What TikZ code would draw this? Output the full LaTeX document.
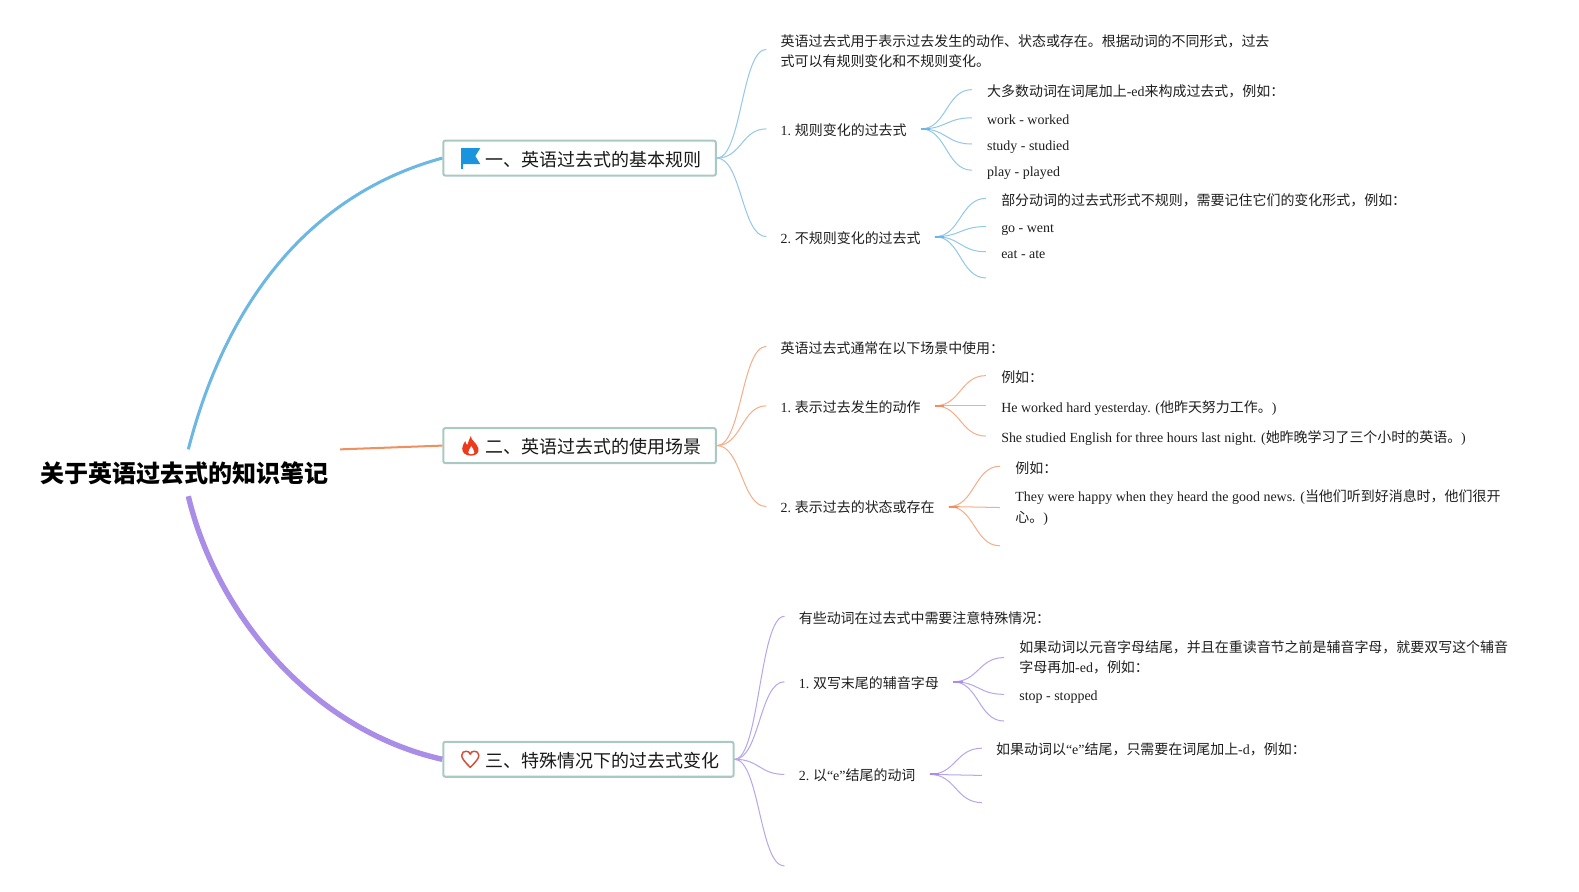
\documentclass[tikz,border=0pt]{standalone}
\usetikzlibrary{calc}
\usepackage{fontspec}
\setmainfont{Liberation Serif}
\newfontfamily\cjk{Noto Sans CJK SC}
\newcommand{\zh}[1]{{\cjk #1}}
\definecolor{cblue}{HTML}{6DB7E3}
\definecolor{cblueL}{HTML}{93C8E8}
\definecolor{corange}{HTML}{F0905F}
\definecolor{corangeL}{HTML}{F4AE8A}
\definecolor{cpurple}{HTML}{A98DE6}
\definecolor{cpurpleL}{HTML}{B8A6EA}
\definecolor{boxline}{HTML}{A9CAC3}
\definecolor{iflag}{HTML}{1A94DC}
\definecolor{iflame}{HTML}{EE3A1C}
\definecolor{iheart}{HTML}{D0503C}
\tikzset{
  txt/.style={anchor=west,inner xsep=10.5pt,inner ysep=0pt,text height=11.25pt,text depth=1.8pt,font=\fontsize{10.4pt}{15pt}\selectfont,text=black!88},
  cj/.style={text height=12.6pt},
  lf/.style={inner xsep=11.25pt},
  mtxt/.style={anchor=west,inner xsep=10.5pt,inner ysep=0pt,align=left,font=\fontsize{10.4pt}{15pt}\selectfont,text=black!88},
  topic/.style={anchor=west,draw=boxline,line width=1.5pt,rounded corners=1.5pt,fill=white,minimum height=26pt,inner sep=0pt,text height=15pt,text depth=2.6pt,font=\fontsize{13.4pt}{16pt}\selectfont,text=black!90},
  rootn/.style={inner xsep=8.5pt,inner ysep=0pt,minimum height=34.5pt,font=\fontsize{17.9pt}{20pt}\selectfont\bfseries},
  lk/.style={line width=0.75pt,to path={.. controls ($(\tikztostart)!0.5!(\tikztostart -| \tikztotarget)$) and ($(\tikztotarget)!0.5!(\tikztotarget -| \tikztostart)$) .. (\tikztotarget)}},
  stub/.style={line width=1.5pt},
}
\begin{document}
\begin{tikzpicture}[x=0.75pt,y=-0.75pt]
\useasboundingbox[fill=white] (0,0) rectangle (1568,884.8);

% root
\node[rootn] (root) at (183,469.5) {\zh{关于英语过去式的知识笔记}};

% topics
\node[topic,minimum width=203pt] (t1) at (439.2,157) {\hspace*{21.3pt}\zh{一、英语过去式的基本规则}};
\node[topic,minimum width=203pt] (t2) at (439.2,442.5) {\hspace*{21.3pt}\zh{二、英语过去式的使用场景}};
\node[topic,minimum width=216.2pt] (t3) at (439.2,754) {\hspace*{21.3pt}\zh{三、特殊情况下的过去式变化}};

\draw[cblue,line width=2.25pt] ([xshift=3pt]root.north) .. controls (222,310) and (300,195) .. (t1.west);
\draw[corange,line width=1.5pt] (root.north east) -- (t2.west);
\draw[cpurple,line width=4pt] ([xshift=3pt]root.south) .. controls (215,610) and (310,725) .. (t3.west);

% icons
\fill[iflag] (458,147) -- (477,147) -- (472,155) -- (477,163) -- (460,163) -- (460,168) -- (458,168) -- cycle;
\fill[iflame] (467.5,433) .. controls (468,438) and (473,439) .. (475,445) .. controls (476.5,450) and (472,452.5) .. (468,452.5) .. controls (463,452.5) and (458.5,450) .. (459,445) .. controls (459.3,442) and (461,440) .. (462,438) .. controls (462.5,440) and (463,441) .. (464,442) .. controls (465,439) and (466,436) .. (467.5,433) -- cycle;
\fill[white] (468,443) .. controls (467,446) and (464.5,447) .. (465,449.5) .. controls (465.5,451.5) and (470.5,451.5) .. (471,449.5) .. controls (471.5,447) and (469,446) .. (468,443) -- cycle;
\draw[iheart,line width=1.1pt,line join=round] (467,762) .. controls (461,756) and (458.5,753) .. (458.5,750) .. controls (458.5,747) and (461,746) .. (463,746) .. controls (465,746) and (466.5,747) .. (467,749) .. controls (467.5,747) and (469,746) .. (471,746) .. controls (473,746) and (475.5,747) .. (475.5,750) .. controls (475.5,753) and (473,756) .. (467,762) -- cycle;

% group 1
\node[mtxt] (a1) at (761,51) {\zh{英语过去式用于表示过去发生的动作、状态或存在。根据动词的不同形式，过去}\\\zh{式可以有规则变化和不规则变化。}};
\coordinate (a1e) at (761,49);
\node[txt] (a2) at (761,128) {1.\hspace{2.8pt}\zh{规则变化的过去式}};
\node[txt,cj] (a3) at (761,235) {2.\hspace{2.8pt}\zh{不规则变化的过去式}};
\node[txt,lf,cj] (a21) at (965,89) {\zh{大多数动词在词尾加上}-ed\zh{来构成过去式，例如：}};
\node[txt,lf] (a22) at (965,117) {work - worked};
\node[txt,lf] (a23) at (965,143) {study - studied};
\node[txt,lf] (a24) at (965,169) {play - played};
\node[txt,lf,cj] (a31) at (979,197) {\zh{部分动词的过去式形式不规则，需要记住它们的变化形式，例如：}};
\node[txt,lf] (a32) at (979,225) {go - went};
\node[txt,lf] (a33) at (979,250) {eat - ate};
\coordinate (a34) at (979,276);
\begin{scope}[cblueL]
\draw (t1.east) edge[lk] (a1e) edge[lk] (a2.west) edge[lk] (a3.west);
\draw (a2.east) edge[lk] (a21.west) edge[lk] (a22.west) edge[lk] (a23.west) edge[lk] (a24.west);
\draw (a3.east) edge[lk] (a31.west) edge[lk] (a32.west) edge[lk] (a33.west) edge[lk] (a34);
\draw[stub,cblue] (a2.east) -- ++(7pt,0);
\draw[stub,cblue] (a3.east) -- ++(7pt,0);
\end{scope}

% group 2
\node[txt,cj] (b1) at (761,344) {\zh{英语过去式通常在以下场景中使用：}};
\node[txt] (b2) at (761,403) {1.\hspace{2.8pt}\zh{表示过去发生的动作}};
\node[txt] (b3) at (761,503) {2.\hspace{2.8pt}\zh{表示过去的状态或存在}};
\node[txt,lf,cj] (b21) at (979,373) {\zh{例如：}};
\node[txt,lf] (b22) at (979,403) {He worked hard yesterday. (\zh{他昨天努力工作。})};
\node[txt,lf] (b23) at (979,433) {She studied English for three hours last night. (\zh{她昨晚学习了三个小时的英语。})};
\node[txt,lf,cj] (b31) at (993,463) {\zh{例如：}};
\node[mtxt,lf] (b32) at (993,504) {They were happy when they heard the good news. (\zh{当他们听到好消息时，他们很开}\\\zh{心。})};
\coordinate (b33) at (993,542);
\begin{scope}[corangeL]
\draw (t2.east) edge[lk] (b1.west) edge[lk] (b2.west) edge[lk] (b3.west);
\draw (b2.east) edge[lk] (b21.west) edge[lk] (b22.west) edge[lk] (b23.west);
\draw (b3.east) edge[lk] (b31.west) edge[lk] (b32.west) edge[lk] (b33);
\draw[stub,corange] (b2.east) -- ++(7pt,0);
\draw[stub,corange] (b3.east) -- ++(7pt,0);
\end{scope}

% group 3
\node[txt,cj] (c1) at (779,612) {\zh{有些动词在过去式中需要注意特殊情况：}};
\node[txt] (c2) at (779,677) {1.\hspace{2.8pt}\zh{双写末尾的辅音字母}};
\node[txt] (c3) at (779,769) {2.\hspace{2.8pt}\zh{以}“e”\zh{结尾的动词}};
\coordinate (c4) at (779,860);
\node[mtxt,lf] (c21) at (997,653) {\zh{如果动词以元音字母结尾，并且在重读音节之前是辅音字母，就要双写这个辅音}\\\zh{字母再加}-ed\zh{，例如：}};
\node[txt,lf] (c22) at (997,689.5) {stop - stopped};
\coordinate (c23) at (997,716);
\node[txt] (c31) at (975,743) {\zh{如果动词以}“e”\zh{结尾，只需要在词尾加上}-d\zh{，例如：}};
\coordinate (c32) at (975,770);
\coordinate (c33) at (975,797);
\begin{scope}[cpurpleL]
\draw (t3.east) edge[lk] (c1.west) edge[lk] (c2.west) edge[lk] (c3.west) edge[lk] (c4);
\draw (c2.east) edge[lk] (c21.west) edge[lk] (c22.west) edge[lk] (c23);
\draw (c3.east) edge[lk] (c31.west) edge[lk] (c32) edge[lk] (c33);
\draw[stub,cpurple] (c2.east) -- ++(7pt,0);
\draw[stub,cpurple] (c3.east) -- ++(7pt,0);
\end{scope}
\end{tikzpicture}
\end{document}
